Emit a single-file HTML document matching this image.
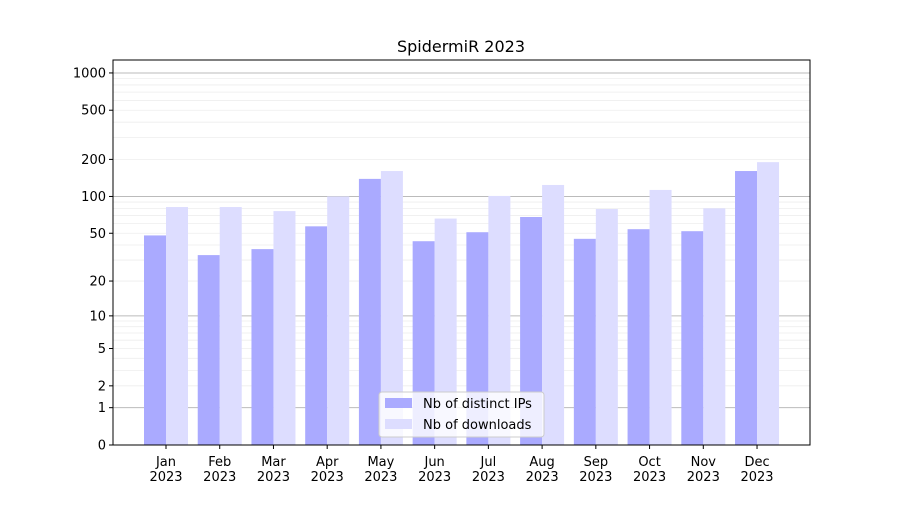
<!DOCTYPE html>
<html><head><meta charset="utf-8"><style>
body{margin:0;background:#fff;font-family:"Liberation Sans","DejaVu Sans",sans-serif}
svg text{font-family:"DejaVu Sans","Liberation Sans",sans-serif;font-size:13px;fill:#000}
</style></head><body>
<svg id="chart" width="900" height="500"></svg>
<script>
const categories=["Jan","Feb","Mar","Apr","May","Jun","Jul","Aug","Sep","Oct","Nov","Dec"];
const ipValues=[48,33,37,57,139,43,51,68,45,54,52,161];
const dlValues=[82,82,76,100,161,66,101,124,79,113,80,190];
const yTicks=[0,1,2,5,10,20,50,100,200,500,1000];
const NS="http://www.w3.org/2000/svg";
const svg=document.getElementById('chart');
const L=113,R=810,T=60,B=445,K=124;
function y(v){return B-Math.log10(1+v)*K;}
function x(i){return 166+i*53.73;}
function mk(t,a,p){const e=document.createElementNS(NS,t);for(const k in a)e.setAttribute(k,a[k]);(p||svg).appendChild(e);return e;}
// grid
for(let d=1;d<=1000;d*=10){for(let m=1;m<10;m++){const v=d*m;if(v>1300)break;const yy=y(v);
const g=mk('line',{x1:L,x2:R,y1:yy,y2:yy,stroke:m==1?'#bbb':'#eee','stroke-width':m==1?1:0.8});

}}
const bw=22;
categories.forEach((c,i)=>{
const b1=mk('rect',{x:x(i)-bw,y:y(ipValues[i]),width:bw,height:B-y(ipValues[i]),fill:'#aaaaff'});


const b2=mk('rect',{x:x(i),y:y(dlValues[i]),width:bw,height:B-y(dlValues[i]),fill:'#ddddff'});


mk('line',{x1:x(i),x2:x(i),y1:B,y2:B+4,stroke:'#000'});
const t=mk('text',{x:x(i),y:B+21,'text-anchor':'middle'});t.textContent=c;


const t2=mk('text',{x:x(i),y:B+36,'text-anchor':'middle'});t2.textContent='2023';


});
yTicks.forEach(v=>{const yy=y(v);mk('line',{x1:L-4,x2:L,y1:yy,y2:yy,stroke:'#000'});
const t=mk('text',{x:L-7,y:yy+4.5,'text-anchor':'end'});t.textContent=v;

});
const ax=mk('rect',{x:L,y:T,width:R-L,height:B-T,fill:'none',stroke:'#000','stroke-width':1});


const ti=mk('text',{x:461,y:52,'text-anchor':'middle',style:'font-size:16px'});ti.textContent='SpidermiR 2023';


const lg=mk('g',{});


mk('rect',{x:379,y:392,width:165,height:45,rx:3,fill:'rgba(255,255,255,0.8)',stroke:'#ccc'},lg);
mk('rect',{x:385,y:398,width:27,height:10,fill:'#aaaaff'},lg);
mk('rect',{x:385,y:419,width:27,height:10,fill:'#ddddff'},lg);
const l1=mk('text',{x:423,y:408},lg);l1.textContent='Nb of distinct IPs';
const l2=mk('text',{x:423,y:429},lg);l2.textContent='Nb of downloads';
</script>
</body></html>
